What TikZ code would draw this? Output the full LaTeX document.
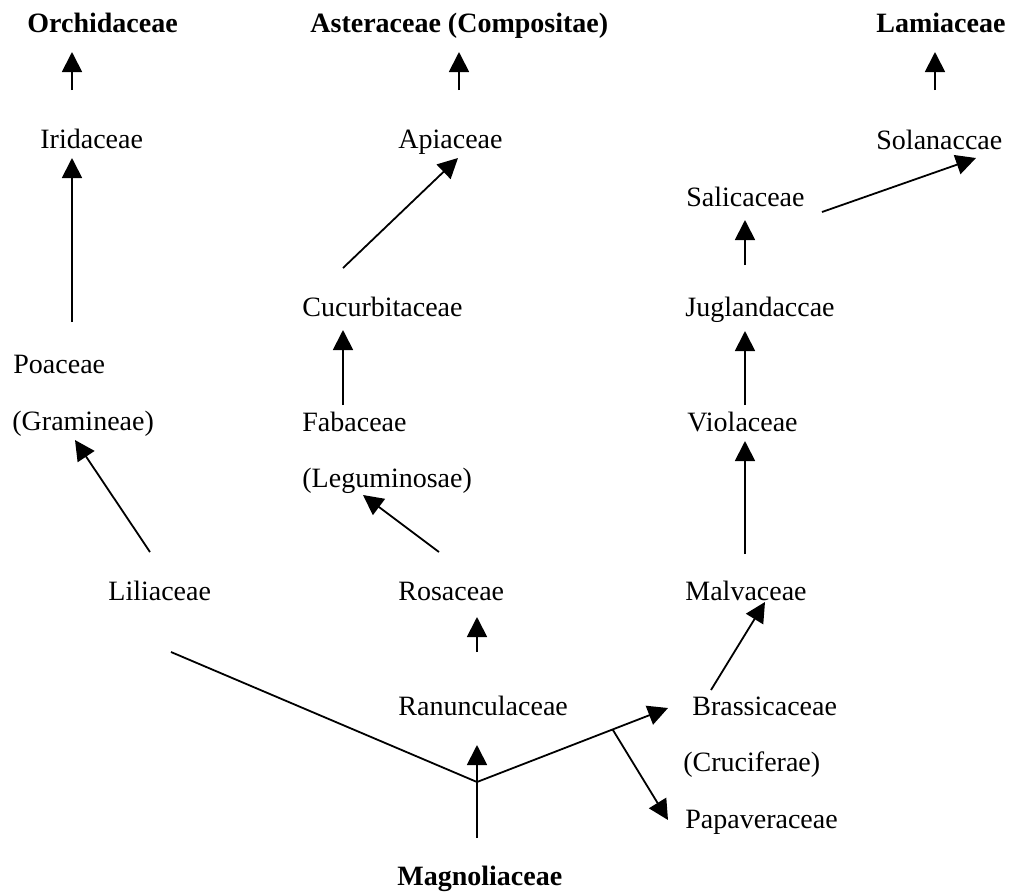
\documentclass[tikz,border=0pt]{standalone}
\usepackage{fontspec}
\setmainfont{Liberation Serif}
\usetikzlibrary{arrows.meta,calc}
\begin{document}
\begin{tikzpicture}[x=0.5pt,y=-0.5pt,
    fam/.style={anchor=base west,inner sep=0pt,text height=10pt,text depth=3.5pt,font=\fontsize{14}{17}\selectfont},
    famb/.style={fam,font=\fontsize{14}{17}\selectfont\bfseries},
    arr/.style={line width=0.9pt,-{Triangle[length=10pt,width=10pt]}},
    ln/.style={line width=0.9pt}]
    \useasboundingbox (0,0) rectangle (1009,896);
    % families, top to bottom
    \node[famb] (orch) at (27,32) {Orchidaceae};
    \node[famb] (ast) at (310,32) {Asteraceae (Compositae)};
    \node[famb] (lam) at (876,32) {Lamiaceae};
    \node[fam] (iri) at (40,148) {Iridaceae};
    \node[fam] (api) at (398,148) {Apiaceae};
    \node[fam] (sol) at (876,149) {Solanaccae};
    \node[fam] (sal) at (686,206) {Salicaceae};
    \node[fam] (cuc) at (302,316) {Cucurbitaceae};
    \node[fam] (jug) at (685,316) {Juglandaccae};
    \node[fam] (poa) at (13,373) {Poaceae};
    \node[fam] (gra) at (12,430) {(Gramineae)};
    \node[fam] (fab) at (302,431) {Fabaceae};
    \node[fam] (vio) at (687,431) {Violaceae};
    \node[fam] (leg) at (302,487) {(Leguminosae)};
    \node[fam] (lil) at (108,600) {Liliaceae};
    \node[fam] (ros) at (398,600) {Rosaceae};
    \node[fam] (mal) at (685,600) {Malvaceae};
    \node[fam] (ran) at (398,715) {Ranunculaceae};
    \node[fam] (bra) at (692,715) {Brassicaceae};
    \node[fam] (cru) at (683,771) {(Cruciferae)};
    \node[fam] (pap) at (685,828) {Papaveraceae};
    \node[famb] (mag) at (397,885) {Magnoliaceae};
    \coordinate (jn) at ($(mag.base west)+(80,-103)$);
    % connectors
    \draw[arr] ($(iri.base west)+(32,-58)$) -- ($(orch.base west)+(45,20)$);
    \draw[arr] ($(api.base west)+(61,-58)$) -- ($(ast.base west)+(149,20)$);
    \draw[arr] ($(sol.base west)+(59,-59)$) -- ($(lam.base west)+(59,20)$);
    \draw[arr] ($(poa.base west)+(59,-51)$) -- ($(iri.base west)+(32,10)$);
    \draw[arr] ($(cuc.base west)+(41,-48)$) -- ($(api.base west)+(60,10)$);
    \draw[arr] ($(sal.base west)+(136,6)$) -- ($(sol.base west)+(100,9)$);
    \draw[arr] ($(jug.base west)+(60,-51)$) -- ($(sal.base west)+(59,14)$);
    \draw[arr] ($(fab.base west)+(41,-26)$) -- ($(cuc.base west)+(41,14)$);
    \draw[arr] ($(vio.base west)+(58,-26)$) -- ($(jug.base west)+(60,15)$);
    \draw[arr] ($(lil.base west)+(42,-48)$) -- ($(gra.base west)+(63,10)$);
    \draw[arr] ($(ros.base west)+(41,-48)$) -- ($(leg.base west)+(61,8)$);
    \draw[arr] ($(mal.base west)+(60,-46)$) -- ($(vio.base west)+(58,10)$);
    \draw[arr] ($(ran.base west)+(79,-63)$) -- ($(ros.base west)+(79,17)$);
    \draw[arr] ($(mag.base west)+(80,-47)$) -- ($(ran.base west)+(79,30)$);
    \draw[ln] ($(lil.base west)+(63,52)$) -- (jn);
    \draw[arr] (jn) -- coordinate[pos=0.71] (br) ($(bra.base west)+(-24,-7)$);
    \draw[arr] (br) -- ($(pap.base west)+(-17,-8)$);
    \draw[arr] ($(bra.base west)+(19,-25)$) -- ($(mal.base west)+(80,2)$);
\end{tikzpicture}
\end{document}
